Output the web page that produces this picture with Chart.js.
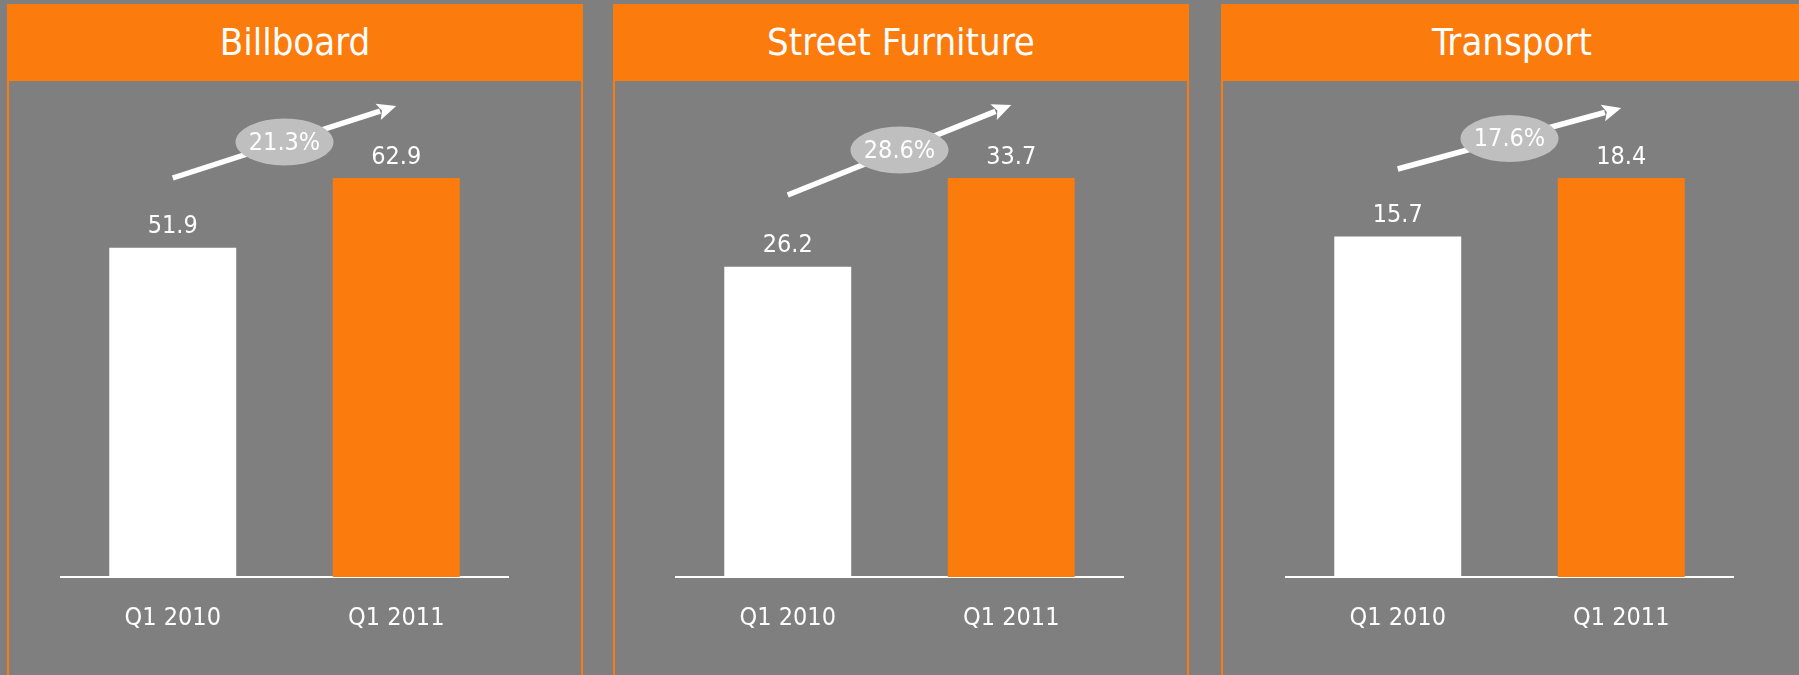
<!DOCTYPE html>
<html>
<head>
<meta charset="utf-8">
<script src="https://cdn.jsdelivr.net/npm/chart.js@4/dist/chart.umd.min.js"></script>
<style>
  html, body { margin: 0; padding: 0; }
  body {
    width: 1799px; height: 675px; overflow: hidden; position: relative;
    background: #7f7f7f;
    font-family: 'Liberation Sans Narrow', 'DejaVu Sans Condensed', sans-serif;
  }
  .panel {
    position: absolute; top: 4px; bottom: 0; box-sizing: border-box;
    border-left: 2px solid #fc7b0d; border-right: 2px solid #fc7b0d;
  }
  .head {
    position: absolute; top: 4px; height: 77px; background: #fc7b0d;
    color: #fff; font-size: 38px; line-height: 77px; text-align: center;
  }
  canvas { position: absolute; top: 81px; }
</style>
</head>
<body>
<script>
const panels = ['Billboard', 'Street Furniture', 'Transport'];
const periods = ['Q1 2010', 'Q1 2011'];
const q1_2010 = [51.9, 26.2, 15.7];
const q1_2011 = [62.9, 33.7, 18.4];
const growth = ['21.3%', '28.6%', '17.6%'];

const ORANGE = '#fc7b0d';
const FONT = "'Liberation Sans Narrow', 'DejaVu Sans Condensed', sans-serif";

// page geometry of each panel; arrowY = [start, tip] in page pixels
const layout = [
  { left: 7, width: 576, axisLeft: 61, arrowY: [178, 106] },
  { left: 613, width: 576, axisLeft: 676, arrowY: [195, 105] },
  { left: 1221, width: 582, axisLeft: 1286, arrowY: [169, 108] }
];
const CANVAS_TOP = 81;

const valueLabels = {
  id: 'valueLabels',
  afterDatasetsDraw(chart) {
    const ctx = chart.ctx;
    const ds = chart.data.datasets[0];
    ctx.save();
    ctx.fillStyle = '#fff';
    ctx.font = '25px ' + FONT;
    ctx.textAlign = 'center';
    ctx.textBaseline = 'middle';
    chart.getDatasetMeta(0).data.forEach((bar, i) => {
      ctx.fillText(ds.data[i].toFixed(1), bar.x, bar.y - 21);
    });
    ctx.restore();
  }
};

const growthArrow = {
  id: 'growthArrow',
  afterDraw(chart, args, opts) {
    const ctx = chart.ctx;
    const bars = chart.getDatasetMeta(0).data;
    const x0 = bars[0].x, x1 = bars[1].x;
    const y0 = opts.y[0] - CANVAS_TOP, y1 = opts.y[1] - CANVAS_TOP;
    const dx = x1 - x0, dy = y1 - y0, len = Math.hypot(dx, dy);
    const ux = dx / len, uy = dy / len;
    const head = 19, half = 8.5;
    const bx = x1 - ux * head, by = y1 - uy * head;
    ctx.save();
    ctx.strokeStyle = '#fff';
    ctx.fillStyle = '#fff';
    ctx.lineWidth = 5.5;
    ctx.beginPath();
    ctx.moveTo(x0, y0);
    ctx.lineTo(bx + ux * 2, by + uy * 2);
    ctx.stroke();
    ctx.beginPath();
    ctx.moveTo(x1, y1);
    ctx.lineTo(bx - uy * half, by + ux * half);
    ctx.lineTo(bx + ux * 4, by + uy * 4);
    ctx.lineTo(bx + uy * half, by - ux * half);
    ctx.closePath();
    ctx.fill();
    const cx = (x0 + x1) / 2, cy = (y0 + y1) / 2;
    ctx.fillStyle = '#bfbfbf';
    ctx.beginPath();
    ctx.ellipse(cx, cy, 49, 23.5, 0, 0, Math.PI * 2);
    ctx.fill();
    ctx.fillStyle = '#fff';
    ctx.font = '25px ' + FONT;
    ctx.textAlign = 'center';
    ctx.textBaseline = 'middle';
    ctx.fillText(opts.text, cx, cy + 1);
    ctx.restore();
  }
};

panels.forEach((name, i) => {
  const g = layout[i];
  const panel = document.createElement('div');
  panel.className = 'panel';
  panel.style.left = g.left + 'px';
  panel.style.width = g.width + 'px';
  document.body.appendChild(panel);

  const head = document.createElement('div');
  head.className = 'head';
  head.style.left = g.left + 'px';
  head.style.width = g.width + 'px';
  head.textContent = name;
  document.body.appendChild(head);

  const canvas = document.createElement('canvas');
  canvas.width = 527;
  canvas.height = 594;
  canvas.style.left = (g.axisLeft - 40) + 'px';
  document.body.appendChild(canvas);

  const values = [q1_2010[i], q1_2011[i]];

  new Chart(canvas.getContext('2d'), {
    type: 'bar',
    data: {
      labels: periods,
      datasets: [{
        data: values,
        backgroundColor: ['#ffffff', ORANGE],
        barPercentage: 0.568,
        categoryPercentage: 1
      }]
    },
    options: {
      responsive: false,
      animation: false,
      layout: { padding: { top: 97, bottom: 16, left: 40, right: 40 } },
      plugins: {
        legend: { display: false },
        tooltip: { enabled: false },
        growthArrow: { y: g.arrowY, text: growth[i] }
      },
      scales: {
        x: {
          grid: { display: false, drawTicks: false },
          border: { display: true, color: '#ffffff', width: 2 },
          ticks: {
            color: '#ffffff', padding: 26, maxRotation: 0, autoSkip: false,
            font: { family: FONT, size: 25 }
          }
        },
        y: { display: false, min: 0, max: Math.max(...values) }
      }
    },
    plugins: [valueLabels, growthArrow]
  });
});
</script>
</body>
</html>
